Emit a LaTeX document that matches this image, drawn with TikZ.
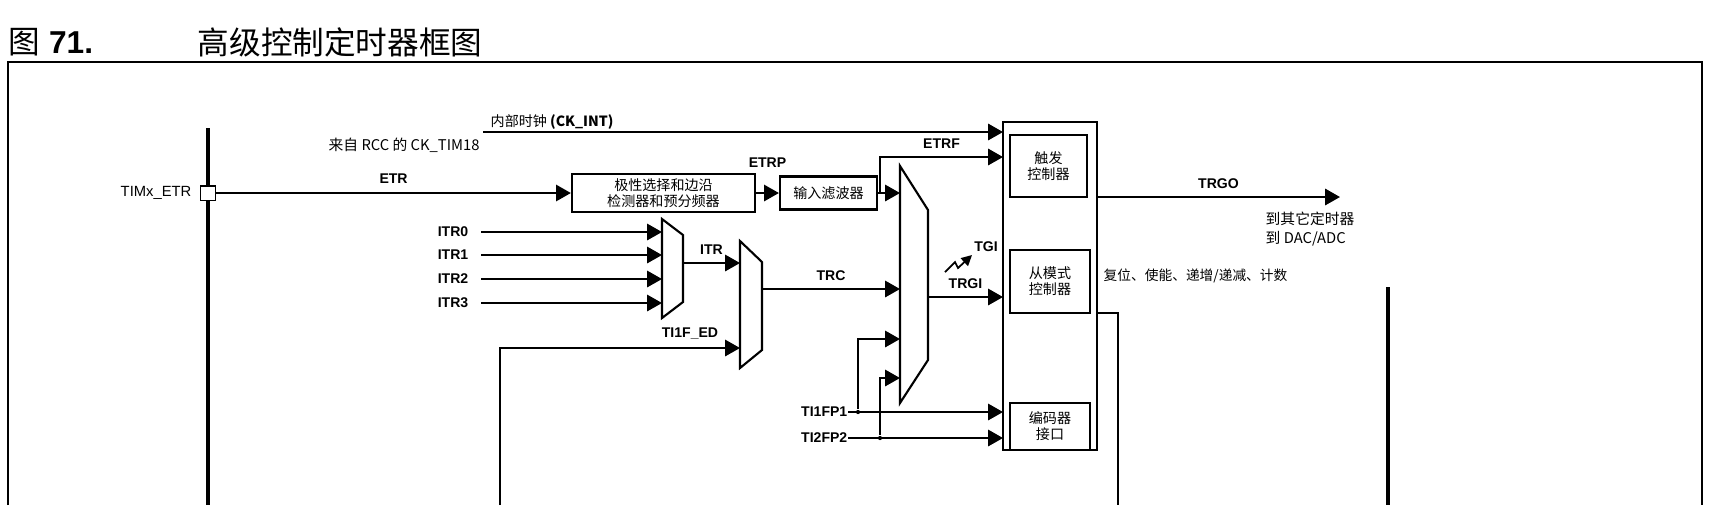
\documentclass[tikz,border=0pt]{standalone}
\usepackage{fontspec}
\setmainfont{Liberation Sans}
\newfontfamily\cjk{Noto Sans CJK SC}
\usetikzlibrary{arrows.meta}
\tikzset{
  sig/.style={line width=0.6pt,-{Triangle[length=4.2pt,width=4.6pt]}},
  wire/.style={line width=0.6pt},
  blk/.style={draw,line width=0.6pt,inner sep=0pt,font=\cjk\fontsize{4pt}{4.6pt}\selectfont,align=center},
  lab/.style={font=\bfseries\fontsize{4pt}{5pt}\selectfont,inner sep=0pt},
  txt/.style={font=\cjk\fontsize{4pt}{5pt}\selectfont,inner sep=0pt,anchor=west,align=left},
  dot/.style={circle,fill,inner sep=0pt,minimum size=1.2pt}
}
\begin{document}
\begin{tikzpicture}[x=0.01cm,y=-0.01cm]
\useasboundingbox (0,0) rectangle (1709,505);
\node[anchor=west,inner sep=0pt,font=\fontsize{9pt}{10pt}\selectfont] (fig) at (8,42) {{\cjk 图} \textbf{71.}};
\node[anchor=west,inner sep=0pt,font=\cjk\fontsize{9pt}{10pt}\selectfont] (title) at (197,42) {高级控制定时器框图};

% frame and buses
\coordinate (f1) at (8,505); \coordinate (f2) at (8,62);
\coordinate (f3) at (1702,62); \coordinate (f4) at (1702,505);
\draw[wire] (f1) -- (f2) -- (f3) -- (f4);
\coordinate (b1) at (208,128); \coordinate (b2) at (208,505);
\draw[line width=1pt] (b1) -- (b2);
\coordinate (b3) at (1388,287); \coordinate (b4) at (1388,505);
\draw[line width=1pt] (b3) -- (b4);

% input side
\node[draw,fill=white,line width=0.5pt,minimum size=4.2pt,inner sep=0pt] (etrpin) at (208,193) {};
\node[anchor=east,inner sep=0pt,font=\fontsize{4.2pt}{5pt}\selectfont] (etrlab) at (192,193) {TIMx\_ETR};
\node[blk,minimum width=1.83cm,minimum height=0.38cm] (pol) at (663.5,193) {极性选择和边沿\\检测器和预分频器};
\node[blk,minimum width=0.97cm,minimum height=0.33cm] (filt) at (828.5,193) {输入滤波器};
\draw[sig] (etrpin) -- node[lab,above=2.5pt] {ETR} (pol);
\draw[sig] (pol) -- node[lab,above=7pt] {ETRP} (filt);

\coordinate (ckin) at (483,132);
\node[txt,font=\cjk\fontsize{4pt}{5pt}\selectfont] (cklab) at (490,122) {内部时钟 \textbf{(CK\_INT)}};
\node[txt,font=\cjk\fontsize{4.2pt}{5pt}\selectfont] (rcc) at (328,145) {来自 RCC 的 CK\_TIM18};

% trigger mux
\coordinate (m1) at (900,166); \coordinate (m2) at (928,210);
\coordinate (m3) at (928,360); \coordinate (m4) at (900,403);
\draw[wire] (m1) -- (m2) -- (m3) -- (m4) -- cycle;
\coordinate (mi1) at (900,193); \coordinate (mi2) at (900,289);
\coordinate (mi3) at (900,339); \coordinate (mi4) at (900,378);
\coordinate (mo) at (928,297);

% ITR mux
\coordinate (i1) at (662,219); \coordinate (i2) at (683,235);
\coordinate (i3) at (683,302); \coordinate (i4) at (662,318);
\draw[wire] (i1) -- (i2) -- (i3) -- (i4) -- cycle;
\foreach \k/\y in {0/232,1/255,2/279,3/303}{
  \node[lab,anchor=east] (itr\k) at (469,\y) {ITR\k};
  \coordinate (itrin\k) at (662,\y);
  \draw[sig] (itr\k.east)++(12,0) -- (itrin\k);
}

% TRC mux
\coordinate (t1) at (740,241); \coordinate (t2) at (762,262);
\coordinate (t3) at (762,350); \coordinate (t4) at (740,368);
\draw[wire] (t1) -- (t2) -- (t3) -- (t4) -- cycle;
\coordinate (ti1) at (683,263); \coordinate (ti2) at (740,263);
\draw[sig] (ti1) -- node[lab,above=2pt] {ITR} (ti2);
\coordinate (to) at (762,289);
\draw[sig] (to) -- node[lab,above=2pt] {TRC} (mi2);
\coordinate (ed0) at (500,505); \coordinate (ed1) at (500,348); \coordinate (ed2) at (740,348);
\draw[sig] (ed0) -- (ed1) -- (ed2);
\node[lab] (edlab) at (690,334) {TI1F\_ED};

% controller block
\node[draw,line width=0.6pt,minimum width=0.94cm,minimum height=3.28cm,inner sep=0pt] (ctl) at (1050,286) {};
\node[blk,minimum width=0.77cm,minimum height=0.62cm] (trig) at (1048.5,166) {触发\\控制器};
\node[blk,minimum width=0.8cm,minimum height=0.63cm] (slave) at (1050,281.5) {从模式\\控制器};
\node[blk,minimum width=0.8cm,minimum height=0.47cm] (enc) at (1050,426.5) {编码器\\接口};

\coordinate (ckout) at (1003,132);
\draw[sig] (ckin) -- (ckout);
\coordinate (ef1) at (880,193); \coordinate (ef2) at (880,157); \coordinate (ef3) at (1003,157);
\draw[sig] (filt) -- (mi1);
\draw[sig] (ef1) -- (ef2) -- node[lab,above=2pt] {ETRF} (ef3);
\coordinate (trgi) at (1003,297);
\draw[sig] (mo) -- node[lab,above=2pt] {TRGI} (trgi);

% TGI
\coordinate (g1) at (945,272); \coordinate (g2) at (955,262);
\coordinate (g3) at (958,268); \coordinate (g4) at (972,255);
\draw[line width=0.5pt,-{Triangle[length=3pt,width=3pt]}] (g1) -- (g2) -- (g3) -- (g4);
\node[lab] (tgi) at (986,247) {TGI};

% TI1FP1 / TI2FP2
\node[lab,anchor=east] (fp1) at (848,412) {TI1FP1};
\node[lab,anchor=east] (fp2) at (848,438) {TI2FP2};
\node[dot] (d1) at (858,412) {};
\node[dot] (d2) at (880,438) {};
\coordinate (e1) at (1003,412); \coordinate (e2) at (1003,438);
\draw[sig] (fp1) -- (e1);
\draw[sig] (fp2) -- (e2);
\coordinate (v1) at (858,339); \coordinate (v2) at (880,378);
\draw[sig] (d1) -- (v1) -- (mi3);
\draw[sig] (d2) -- (v2) -- (mi4);

% outputs
\coordinate (trgo1) at (1097,197); \coordinate (trgo2) at (1340,197);
\draw[sig] (trgo1) -- node[lab,above=2pt] {TRGO} (trgo2);
\node[txt,font=\cjk\fontsize{4.2pt}{5.6pt}\selectfont] (to2) at (1265,229) {到其它定时器\\到 DAC/ADC};
\node[txt,font=\cjk\fontsize{3.9pt}{5pt}\selectfont] (rst) at (1103,276) {复位、使能、递增/递减、计数};
\coordinate (s1) at (1097,313); \coordinate (s2) at (1118,313); \coordinate (s3) at (1118,505);
\draw[line width=0.4pt] (s1) -- (s2) -- (s3);
\end{tikzpicture}
\end{document}
